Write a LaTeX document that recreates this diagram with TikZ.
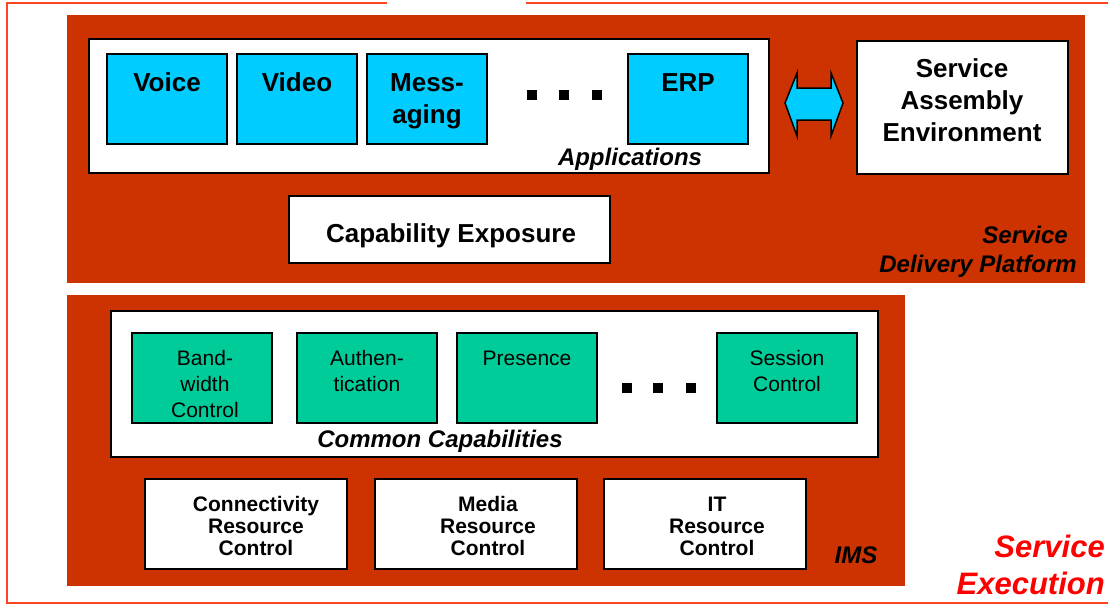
\documentclass[tikz,border=0pt]{standalone}
\usepackage{fontspec}
\setmainfont{Liberation Sans}
\usetikzlibrary{fit}
\definecolor{panelred}{HTML}{CC3300}
\definecolor{appcyan}{HTML}{00CCFF}
\definecolor{capgreen}{HTML}{00CC99}
\definecolor{bordred}{HTML}{FF4422}
\definecolor{execred}{HTML}{FF0000}
\newcommand{\mlines}[1]{\begin{tabular}[t]{@{}c@{}}#1\end{tabular}}
\newcommand{\mlinesr}[1]{\begin{tabular}[t]{@{}r@{}}#1\end{tabular}}
\tikzset{
  panel/.style={fill=panelred, draw=none, inner sep=0pt, outer sep=0pt},
  wbox/.style={draw=black, line width=1.5pt, fill=white, inner sep=0pt, outer sep=0pt},
  cbox/.style={wbox, fill=appcyan},
  gbox/.style={wbox, fill=capgreen},
  txt/.style={inner sep=0pt, anchor=base},
  bigbold/.style={txt, font=\bfseries\fontsize{26}{32}\selectfont},
  itbold/.style={txt, font=\bfseries\itshape\fontsize{24}{29}\selectfont},
  captxt/.style={txt, font=\fontsize{21}{26}\selectfont},
  restxt/.style={txt, font=\bfseries\fontsize{21}{22}\selectfont},
  dotsq/.style={fill=black, draw=none, minimum size=10pt, inner sep=0pt},
  bline/.style={draw=bordred, line width=2pt}
}
\begin{document}
\begin{tikzpicture}[x=1pt,y=-1pt]
\useasboundingbox (0,0) rectangle (1108,605);
% outer frame
\coordinate (fa) at (387,3);
\coordinate (fb) at (7,3);
\coordinate (fc) at (7,603);
\coordinate (fd) at (1108,603);
\coordinate (fe) at (526,3);
\coordinate (ff) at (1108,3);
\draw[bline] (fa) -- (fb) -- (fc) -- (fd);
\draw[bline] (fe) -- (ff);
% panels
\node[panel, fit={(67,15)(1085,283)}] (sdp) {};
\node[panel, fit={(67,295)(905,586)}] (ims) {};
% applications
\node[wbox, fit={(89,39)(769,173)}] (apps) {};
\node[cbox, fit={(107,54)(227,144)}] (voice) {};
\node[cbox, fit={(237,54)(357,144)}] (video) {};
\node[cbox, fit={(367,54)(487,144)}] (msg) {};
\node[cbox, fit={(628,54)(748,144)}] (erp) {};
\node[bigbold] (voicet) at (167,91) {Voice};
\node[bigbold] (videot) at (297,91) {Video};
\node[bigbold] (msgt) at (427,91) {\mlines{Mess-\\aging}};
\node[bigbold] (erpt) at (688,91) {ERP};
\node[dotsq] (ad1) at (532,95) {};
\node[dotsq] (ad2) at (564,95) {};
\node[dotsq] (ad3) at (597,95) {};
\node[itbold] (appst) at (630,165) {Applications};
% service assembly environment
\node[wbox, fit={(857,41)(1068,174)}] (sae) {};
\node[bigbold] (saet) at (962,77) {\mlines{Service\\Assembly\\Environment}};
% double arrow
\draw[fill=appcyan, draw=black, line width=1.5pt, line join=miter]
  (785,103) -- (797,73) -- (797,88) -- (831,88) -- (831,73) -- (843,103)
  -- (831,136) -- (831,120) -- (797,120) -- (797,136) -- cycle;
% capability exposure
\node[wbox, fit={(289,196)(610,263)}] (capexp) {};
\node[bigbold] (capexpt) at (451,242) {Capability Exposure};
\node[itbold, anchor=base east] (sdpt) at (1077,243) {\mlinesr{Service\kern9pt\\Delivery Platform}};
% common capabilities
\node[wbox, fit={(111,311)(878,457)}] (common) {};
\node[gbox, fit={(132,333)(272,423)}] (bw) {};
\node[gbox, fit={(297,333)(437,423)}] (auth) {};
\node[gbox, fit={(457,333)(597,423)}] (pres) {};
\node[gbox, fit={(717,333)(857,423)}] (sess) {};
\node[captxt] (bwt) at (205,365) {\mlines{Band-\\width\\Control}};
\node[captxt] (autht) at (367,365) {\mlines{Authen-\\tication}};
\node[captxt] (prest) at (527,365) {Presence};
\node[captxt] (sesst) at (787,365) {\mlines{Session\\Control}};
\node[dotsq] (cd1) at (627,388) {};
\node[dotsq] (cd2) at (658,388) {};
\node[dotsq] (cd3) at (691,388) {};
\node[itbold] (commont) at (440,447) {Common Capabilities};
% resource control boxes
\node[wbox, fit={(145,479)(347,569)}] (conn) {};
\node[wbox, fit={(375,479)(577,569)}] (media) {};
\node[wbox, fit={(604,479)(806,569)}] (itrc) {};
\node[restxt] (connt) at (256,511) {\mlines{Connectivity\\Resource\\Control}};
\node[restxt] (mediat) at (488,511) {\mlines{Media\\Resource\\Control}};
\node[restxt] (itrct) at (717,511) {\mlines{IT\\Resource\\Control}};
\node[itbold] (imst) at (856,563) {IMS};
\node[txt, anchor=base east, text=execred, font=\bfseries\itshape\fontsize{31}{37}\selectfont] (exect) at (1105,557) {\mlinesr{Service\\Execution}};
\end{tikzpicture}
\end{document}
